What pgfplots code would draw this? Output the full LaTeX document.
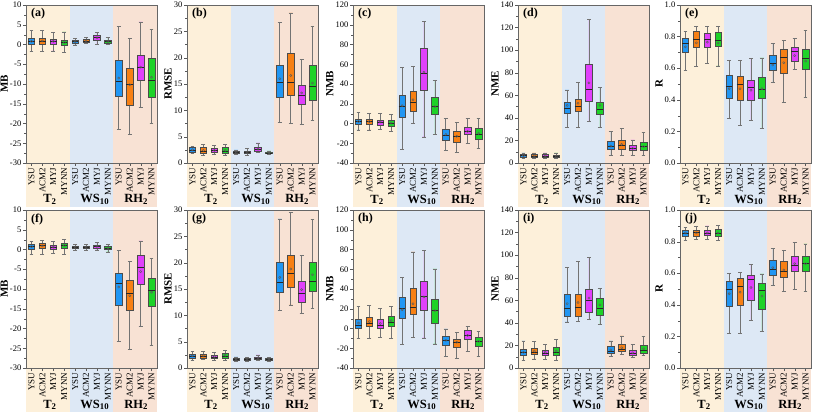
\documentclass[border=0pt]{standalone}
\usepackage{pgfplots}
\pgfplotsset{compat=1.18}
\usepgfplotslibrary{statistics}
\usepackage{fontspec}
\setmainfont{Liberation Serif}

\definecolor{cysu}{RGB}{33,150,243}
\definecolor{cacm}{RGB}{247,128,20}
\definecolor{cmyj}{RGB}{224,64,251}
\definecolor{cmynn}{RGB}{30,210,40}
\definecolor{bgT}{RGB}{253,240,218}
\definecolor{bgW}{RGB}{221,232,245}
\definecolor{bgR}{RGB}{248,226,212}

\pgfplotsset{
  boxplot/draw direction=y,
  boxplot/box extend=0.6,
  boxplot/whisker extend=0.35,
  boxplot/every whisker/.style={draw=black!55,line width=0.6pt},
  boxplot/every median/.style={draw=black!85,line width=0.6pt},
  panel/.style={
    width=131pt, height=158pt, scale only axis, anchor=north west,
    xmin=0.5, xmax=12.5, axis on top, clip=false,
    xtick={1,...,12},
    xticklabels={YSU,ACM2,MYJ,MYNN,YSU,ACM2,MYJ,MYNN,YSU,ACM2,MYJ,MYNN},
    xticklabel style={rotate=90, anchor=east, font=\fontsize{9}{10}\selectfont, inner sep=1.5pt},
    yticklabel style={font=\fontsize{8.5}{10}\selectfont, inner sep=1.5pt},
    tick align=outside, xtick pos=bottom, ytick pos=left,
    major tick length=3pt, minor tick length=1.8pt, minor y tick num=1,
    axis line style={black!60}, tick style={black!65},
    ylabel style={font=\bfseries\fontsize{11}{12}\selectfont},
    ylabel shift=-3pt,
  },
}

\newcommand{\bx}[7]{\addplot[fill=#7, draw=black!70, line width=0.5pt,
  boxplot prepared={draw position=#1, lower whisker=#2, lower quartile=#3,
  median=#4, upper quartile=#5, upper whisker=#6}] coordinates {};}
\newcommand{\means}[1]{\addplot[only marks, mark=o, mark size=1.1pt, draw=black!65] coordinates {#1};}
\newcommand{\bg}[2]{%
  \fill[bgT] (axis cs:0.5,#2) rectangle ([yshift=-44pt]axis cs:4.5,#1);
  \fill[bgW] (axis cs:4.5,#2) rectangle ([yshift=-44pt]axis cs:8.5,#1);
  \fill[bgR] (axis cs:8.5,#2) rectangle ([yshift=-44pt]axis cs:12.5,#1);
  \node[anchor=base, font=\bfseries\fontsize{12.5}{13}\selectfont] at ([yshift=-40pt]axis cs:2.7,#1) {T\textsubscript{2}};
  \node[anchor=base, font=\bfseries\fontsize{12.5}{13}\selectfont] at ([yshift=-40pt]axis cs:6.8,#1) {WS\textsubscript{10}};
  \node[anchor=base, font=\bfseries\fontsize{12.5}{13}\selectfont] at ([yshift=-40pt]axis cs:10.6,#1) {RH\textsubscript{2}};
}
\newcommand{\plab}[1]{\node[anchor=north west, font=\bfseries\fontsize{12}{12}\selectfont, inner sep=1pt] at (rel axis cs:0.03,0.985) {#1};}

\begin{document}
\begin{tikzpicture}
\useasboundingbox (0,0) rectangle (813pt,-417pt);

% ---------------- (a) MB ----------------
\begin{axis}[panel, at={(26pt,-5pt)}, ymin=-30, ymax=10,
  ytick={-30,-25,-20,-15,-10,-5,0,5,10}, yticklabels={-30,-25,-20,-15,-10,-5,0,5,10}, ylabel={MB}]
\bg{-30}{10}
\bx{1}{-1.7}{0.0}{0.8}{1.5}{3.5}{cysu}
\bx{2}{-1.7}{0.0}{0.9}{1.6}{3.6}{cacm}
\bx{3}{-1.6}{0.0}{0.7}{1.4}{3.0}{cmyj}
\bx{4}{-2.1}{-0.3}{0.5}{1.2}{3.2}{cmynn}
\bx{5}{-0.1}{0.3}{0.7}{1.0}{1.5}{cysu}
\bx{6}{0.2}{0.5}{0.9}{1.3}{1.8}{cacm}
\bx{7}{0.1}{1.1}{1.7}{2.3}{3.1}{cmyj}
\bx{8}{0.0}{0.4}{0.7}{1.0}{1.7}{cmynn}
\bx{9}{-21.5}{-13.1}{-9.2}{-4.0}{4.5}{cysu}
\bx{10}{-22.7}{-15.3}{-10.0}{-6.0}{1.5}{cacm}
\bx{11}{-16.0}{-9.0}{-5.8}{-2.8}{5.7}{cmyj}
\bx{12}{-20.0}{-13.3}{-9.0}{-3.5}{3.9}{cmynn}
\means{(1,0.8)(2,0.9)(3,0.8)(4,0.5)(5,0.7)(6,0.9)(7,1.7)(8,0.7)(9,-8.5)(10,-10.2)(11,-5.7)(12,-8.3)}
\plab{(a)}
\end{axis}

% ---------------- (b) RMSE ----------------
\begin{axis}[panel, at={(187pt,-5pt)}, ymin=0, ymax=30,
  ytick={0,5,10,15,20,25,30}, yticklabels={0,5,10,15,20,25,30}, ylabel={RMSE}]
\bg{0}{30}
\bx{1}{1.8}{2.1}{2.5}{2.9}{3.1}{cysu}
\bx{2}{1.5}{1.9}{2.3}{2.9}{3.6}{cacm}
\bx{3}{1.6}{2.0}{2.4}{2.8}{3.4}{cmyj}
\bx{4}{1.5}{1.8}{2.3}{2.9}{3.6}{cmynn}
\bx{5}{1.6}{1.8}{2.0}{2.2}{2.5}{cysu}
\bx{6}{1.5}{1.8}{2.0}{2.3}{2.8}{cacm}
\bx{7}{2.0}{2.3}{2.6}{3.0}{3.8}{cmyj}
\bx{8}{1.6}{1.8}{1.9}{2.1}{2.3}{cmynn}
\bx{9}{7.7}{12.4}{15.3}{18.5}{26.7}{cysu}
\bx{10}{7.5}{12.9}{15.4}{20.8}{28.5}{cacm}
\bx{11}{7.3}{11.1}{12.8}{14.8}{19.7}{cmyj}
\bx{12}{8.1}{11.9}{14.5}{18.5}{25.9}{cmynn}
\means{(1,2.5)(2,2.4)(3,2.4)(4,2.4)(5,2.0)(6,2.0)(7,2.6)(8,1.9)(9,16.0)(10,16.6)(11,13.3)(12,15.2)}
\plab{(b)}
\end{axis}

% ---------------- (c) NMB ----------------
\begin{axis}[panel, at={(353pt,-5pt)}, ymin=-40, ymax=120,
  ytick={-40,-20,0,20,40,60,80,100,120}, yticklabels={-40,-20,0,20,40,60,80,100,120}, ylabel={NMB}]
\bg{-40}{120}
\bx{1}{-6.5}{-1}{2}{4}{11}{cysu}
\bx{2}{-6.5}{-1}{2}{4.5}{10.5}{cacm}
\bx{3}{-6}{-1.5}{1.5}{3.5}{10}{cmyj}
\bx{4}{-8}{-2.5}{0.5}{3}{9}{cmynn}
\bx{5}{-26}{6}{17}{28.6}{56.6}{cysu}
\bx{6}{0}{12}{21.5}{33}{57.6}{cacm}
\bx{7}{-13.5}{33.7}{50.5}{75.8}{103}{cmyj}
\bx{8}{-11}{9}{17}{27}{43.4}{cmynn}
\bx{9}{-27.6}{-16.8}{-11.5}{-6}{5.5}{cysu}
\bx{10}{-29}{-18.9}{-13}{-7.5}{1.5}{cacm}
\bx{11}{-20}{-11}{-8}{-4}{5}{cmyj}
\bx{12}{-25.5}{-16}{-11}{-5}{5}{cmynn}
\means{(1,2)(2,2)(3,1.5)(4,0.5)(5,18)(6,24)(7,52)(8,17)(9,-11)(10,-13)(11,-8)(12,-10)}
\plab{(c)}
\end{axis}

% ---------------- (d) NME ----------------
\begin{axis}[panel, at={(518pt,-5pt)}, ymin=0, ymax=140,
  ytick={0,20,40,60,80,100,120,140}, yticklabels={0,20,40,60,80,100,120,140}, ylabel={NME}]
\bg{0}{140}
\bx{1}{4.5}{5.5}{6.5}{7.5}{9}{cysu}
\bx{2}{4.5}{5.5}{6}{7.5}{9}{cacm}
\bx{3}{4.5}{5.5}{6}{7.5}{9}{cmyj}
\bx{4}{4}{5}{6}{7}{9}{cmynn}
\bx{5}{31.5}{43.9}{48.9}{53.6}{64.8}{cysu}
\bx{6}{31.5}{46}{50.1}{56.9}{71.3}{cacm}
\bx{7}{36.8}{54.5}{65.1}{87.2}{127.3}{cmyj}
\bx{8}{31.5}{43.6}{47.7}{53.9}{66.9}{cmynn}
\bx{9}{7}{12.1}{15}{18.9}{28}{cysu}
\bx{10}{7}{12.5}{16}{20.5}{30.5}{cacm}
\bx{11}{7}{11}{13}{16}{20.5}{cmyj}
\bx{12}{7}{11}{14.5}{18}{27}{cmynn}
\means{(1,6.5)(2,6.3)(3,6.3)(4,6)(5,51)(6,53)(7,71)(8,51)(9,15)(10,16.5)(11,13)(12,14.5)}
\plab{(d)}
\end{axis}

% ---------------- (e) R ----------------
\begin{axis}[panel, at={(680pt,-5pt)}, ymin=0, ymax=1,
  ytick={0,0.2,0.4,0.6,0.8,1.0}, yticklabels={0.0,0.2,0.4,0.6,0.8,1.0}, ylabel={R}]
\bg{0}{1}
\bx{1}{0.585}{0.70}{0.755}{0.79}{0.835}{cysu}
\bx{2}{0.61}{0.73}{0.78}{0.832}{0.865}{cacm}
\bx{3}{0.63}{0.735}{0.785}{0.82}{0.865}{cmyj}
\bx{4}{0.615}{0.74}{0.775}{0.825}{0.865}{cmynn}
\bx{5}{0.284}{0.41}{0.488}{0.556}{0.648}{cysu}
\bx{6}{0.24}{0.40}{0.495}{0.55}{0.65}{cacm}
\bx{7}{0.27}{0.40}{0.48}{0.525}{0.66}{cmyj}
\bx{8}{0.22}{0.41}{0.465}{0.54}{0.665}{cmynn}
\bx{9}{0.51}{0.585}{0.63}{0.685}{0.755}{cysu}
\bx{10}{0.385}{0.57}{0.67}{0.72}{0.775}{cacm}
\bx{11}{0.59}{0.645}{0.705}{0.73}{0.79}{cmyj}
\bx{12}{0.415}{0.595}{0.665}{0.72}{0.84}{cmynn}
\means{(1,0.735)(2,0.76)(3,0.765)(4,0.76)(5,0.47)(6,0.47)(7,0.46)(8,0.47)(9,0.62)(10,0.635)(11,0.68)(12,0.645)}
\plab{(e)}
\end{axis}

% ---------------- (f) MB ----------------
\begin{axis}[panel, at={(26pt,-210pt)}, ymin=-30, ymax=10,
  ytick={-30,-25,-20,-15,-10,-5,0,5,10}, yticklabels={-30,-25,-20,-15,-10,-5,0,5,10}, ylabel={MB}]
\bg{-30}{10}
\bx{1}{-1.2}{0.1}{0.7}{1.3}{2.1}{cysu}
\bx{2}{-1.2}{0.2}{1.0}{1.5}{2.4}{cacm}
\bx{3}{-1.0}{0.0}{0.6}{1.2}{2.1}{cmyj}
\bx{4}{-1.2}{0.3}{1.0}{1.6}{2.5}{cmynn}
\bx{5}{-0.2}{0.2}{0.5}{0.8}{1.2}{cysu}
\bx{6}{-0.2}{0.3}{0.6}{0.8}{1.3}{cacm}
\bx{7}{-0.1}{0.4}{0.8}{1.2}{1.8}{cmyj}
\bx{8}{-0.6}{0.1}{0.4}{0.7}{1.2}{cmynn}
\bx{9}{-23.3}{-14.2}{-8.6}{-5.9}{-0.3}{cysu}
\bx{10}{-25.3}{-15.4}{-11}{-7.9}{-3.1}{cacm}
\bx{11}{-19.5}{-8.7}{-4.5}{-1.4}{2.2}{cmyj}
\bx{12}{-24.2}{-14.4}{-10.4}{-7.3}{-2.2}{cmynn}
\means{(1,0.7)(2,0.9)(3,0.6)(4,1.0)(5,0.5)(6,0.5)(7,0.8)(8,0.4)(9,-9.5)(10,-11.7)(11,-5.6)(12,-10.8)}
\plab{(f)}
\end{axis}

% ---------------- (g) RMSE ----------------
\begin{axis}[panel, at={(187pt,-210pt)}, ymin=0, ymax=30,
  ytick={0,5,10,15,20,25,30}, yticklabels={0,5,10,15,20,25,30}, ylabel={RMSE}]
\bg{0}{30}
\bx{1}{1.5}{1.9}{2.2}{2.6}{3.2}{cysu}
\bx{2}{1.6}{1.9}{2.2}{2.6}{3.2}{cacm}
\bx{3}{1.5}{1.8}{2.1}{2.5}{2.9}{cmyj}
\bx{4}{1.5}{1.9}{2.3}{2.8}{3.3}{cmynn}
\bx{5}{1.3}{1.5}{1.7}{1.9}{2.1}{cysu}
\bx{6}{1.3}{1.5}{1.7}{1.9}{2.0}{cacm}
\bx{7}{1.5}{1.7}{1.9}{2.1}{2.5}{cmyj}
\bx{8}{1.3}{1.5}{1.7}{1.8}{2.0}{cmynn}
\bx{9}{11}{14.3}{16.2}{20.1}{28.3}{cysu}
\bx{10}{12}{15.4}{17.9}{21.5}{29.6}{cacm}
\bx{11}{10.3}{12.5}{14.1}{16.5}{21.4}{cmyj}
\bx{12}{11.3}{14.5}{16.5}{20}{28.2}{cmynn}
\means{(1,2.3)(2,2.3)(3,2.2)(4,2.4)(5,1.7)(6,1.7)(7,1.9)(8,1.7)(9,17.2)(10,18.8)(11,14.9)(12,17.7)}
\plab{(g)}
\end{axis}

% ---------------- (h) NMB ----------------
\begin{axis}[panel, at={(353pt,-210pt)}, ymin=-40, ymax=120,
  ytick={-40,-20,0,20,40,60,80,100,120}, yticklabels={-40,-20,0,20,40,60,80,100,120}, ylabel={NMB}]
\bg{-40}{120}
\bx{1}{-10}{0.5}{3}{9.5}{22}{cysu}
\bx{2}{-10}{2}{5}{11}{23.5}{cacm}
\bx{3}{-9}{0}{3.5}{9.5}{20.5}{cmyj}
\bx{4}{-10}{2.5}{6.5}{12}{22}{cmynn}
\bx{5}{-15.8}{10}{20.1}{31.5}{51.7}{cysu}
\bx{6}{-9}{14.1}{21.1}{40.6}{77.5}{cacm}
\bx{7}{-9.5}{18.1}{32.5}{48}{78.9}{cmyj}
\bx{8}{-15.5}{5}{18.5}{29.5}{60.4}{cmynn}
\bx{9}{-27.9}{-17}{-11.5}{-8}{-0.5}{cysu}
\bx{10}{-29.9}{-18.8}{-14}{-11}{-4}{cacm}
\bx{11}{-23}{-11}{-6.5}{-2}{2.5}{cmyj}
\bx{12}{-28.5}{-18}{-13}{-9}{-3}{cmynn}
\means{(1,5.5)(2,7)(3,5)(4,8)(5,19)(6,25)(7,32)(8,18)(9,-12)(10,-14)(11,-7)(12,-13)}
\plab{(h)}
\end{axis}

% ---------------- (i) NME ----------------
\begin{axis}[panel, at={(518pt,-210pt)}, ymin=0, ymax=140,
  ytick={0,20,40,60,80,100,120,140}, yticklabels={0,20,40,60,80,100,120,140}, ylabel={NME}]
\bg{0}{140}
\bx{1}{7}{11}{13.5}{17}{24}{cysu}
\bx{2}{8}{12}{14}{17.5}{23.5}{cacm}
\bx{3}{7.5}{11}{13}{16}{21}{cmyj}
\bx{4}{7}{11}{14}{18}{25}{cmynn}
\bx{5}{40.8}{45.8}{52.5}{65.1}{88.9}{cysu}
\bx{6}{41}{46}{53.7}{65.5}{94.2}{cacm}
\bx{7}{43.4}{49}{60.2}{69.8}{98}{cmyj}
\bx{8}{38.7}{46.4}{53.1}{61.6}{70.4}{cmynn}
\bx{9}{10}{13}{15}{19}{24}{cysu}
\bx{10}{12}{14.5}{17}{21}{28.5}{cacm}
\bx{11}{9.5}{11.5}{13}{15.5}{21}{cmyj}
\bx{12}{11}{13}{15.5}{20}{28}{cmynn}
\means{(1,14)(2,15)(3,14)(4,15)(5,57)(6,58)(7,62)(8,56)(9,16)(10,18)(11,13.5)(12,17)}
\plab{(i)}
\end{axis}

% ---------------- (j) R ----------------
\begin{axis}[panel, at={(680pt,-210pt)}, ymin=0, ymax=1,
  ytick={0,0.2,0.4,0.6,0.8,1.0}, yticklabels={0.0,0.2,0.4,0.6,0.8,1.0}, ylabel={R}]
\bg{0}{1}
\bx{1}{0.81}{0.835}{0.855}{0.875}{0.89}{cysu}
\bx{2}{0.815}{0.835}{0.86}{0.875}{0.895}{cacm}
\bx{3}{0.815}{0.84}{0.855}{0.875}{0.90}{cmyj}
\bx{4}{0.81}{0.835}{0.855}{0.88}{0.905}{cmynn}
\bx{5}{0.22}{0.39}{0.495}{0.55}{0.60}{cysu}
\bx{6}{0.22}{0.395}{0.52}{0.565}{0.605}{cacm}
\bx{7}{0.30}{0.43}{0.56}{0.59}{0.655}{cmyj}
\bx{8}{0.23}{0.37}{0.49}{0.535}{0.595}{cmynn}
\bx{9}{0.525}{0.585}{0.625}{0.68}{0.755}{cysu}
\bx{10}{0.485}{0.575}{0.61}{0.675}{0.745}{cacm}
\bx{11}{0.495}{0.61}{0.65}{0.705}{0.795}{cmyj}
\bx{12}{0.485}{0.615}{0.66}{0.705}{0.785}{cmynn}
\means{(1,0.855)(2,0.855)(3,0.855)(4,0.855)(5,0.47)(6,0.48)(7,0.51)(8,0.455)(9,0.635)(10,0.62)(11,0.66)(12,0.66)}
\plab{(j)}
\end{axis}

\end{tikzpicture}
\end{document}
